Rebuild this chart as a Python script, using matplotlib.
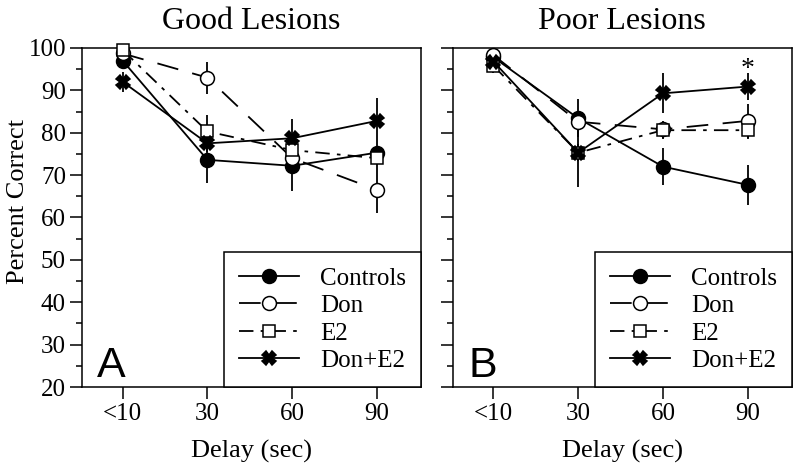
import matplotlib
matplotlib.use('Agg')
import matplotlib.pyplot as plt
import numpy as np

plt.rcParams['font.family'] = ['Liberation Serif', 'DejaVu Serif']

delays = ['<10', '30', '60', '90']
groups = ['Controls', 'Don', 'E2', 'Don+E2']

# Good lesions (panel A)
good_controls = [97.0, 73.6, 72.2, 75.3]
good_controls_err = [1.0, 5.5, 6.0, 2.0]
good_don = [98.7, 93.0, 74.0, 66.5]
good_don_err = [1.0, 3.8, 2.0, 5.5]
good_e2 = [99.5, 80.3, 75.9, 74.0]
good_e2_err = [1.0, 4.0, 2.0, 2.0]
good_done2 = [92.0, 77.5, 78.7, 82.8]
good_done2_err = [2.3, 2.0, 4.5, 5.5]

# Poor lesions (panel B)
poor_controls = [97.8, 83.4, 72.0, 67.7]
poor_controls_err = [1.0, 4.5, 4.3, 4.8]
poor_don = [98.3, 82.6, 80.8, 82.8]
poor_don_err = [1.0, 2.0, 2.0, 4.0]
poor_e2 = [95.8, 75.3, 80.6, 80.6]
poor_e2_err = [1.8, 2.0, 2.0, 2.0]
poor_done2 = [96.8, 75.3, 89.3, 90.9]
poor_done2_err = [1.0, 8.0, 4.7, 3.2]

# estilo de cada grupo
estilos = {
    'Controls': dict(marker='o', mfc='k', ms=10, dashes=()),
    'Don': dict(marker='o', mfc='white', ms=10, dashes=(12, 8)),
    'E2': dict(marker='s', mfc='white', ms=9, dashes=(8, 4, 2, 4)),
    'Don+E2': dict(marker='X', mfc='k', ms=10, dashes=()),
}


def dibujaPanel(ax, series, errores, titulo, letra, ylabels=True):
    x = np.arange(len(delays))
    for g in groups:
        ax.errorbar(x, series[g], yerr=errores[g], fmt='none', ecolor='k',
                    elinewidth=1.3, capsize=0, clip_on=False, zorder=2)
    for g in groups:
        st = estilos[g]
        line, = ax.plot(x, series[g], color='k', lw=1.3, marker=st['marker'],
                        ms=st['ms'], mfc=st['mfc'], mec='k', mew=1.1, label=g,
                        clip_on=False, zorder=3)
        if st['dashes']:
            line.set_dashes(st['dashes'])

    ax.set_xlim(-0.48, 3.52)
    ax.set_ylim(20, 100)
    ax.set_xticks(x)
    ax.set_xticklabels(delays)
    ax.set_yticks(np.arange(20, 101, 10))
    ax.set_yticks(np.arange(25, 100, 10), minor=True)
    ax.tick_params(axis='both', which='major', direction='out', length=8.6,
                   width=1.1, labelsize=18, pad=3)
    ax.tick_params(axis='y', which='minor', direction='out', length=4.3, width=1.1)
    if not ylabels:
        ax.set_yticklabels([])
    for s in ax.spines.values():
        s.set_linewidth(1.1)

    ax.set_title(titulo, fontsize=23, pad=14)
    ax.set_xlabel('Delay (sec)', fontsize=19)
    ax.xaxis.set_label_coords(0.5, -0.155)

    leg = ax.legend(loc='lower right', borderaxespad=0, fancybox=False,
                    edgecolor='k', framealpha=1, fontsize=18, handlelength=2.4,
                    handletextpad=0.85, labelspacing=0.2, borderpad=0.6)
    leg.get_frame().set_linewidth(1.1)

    ax.text(0.045, 0.03, letra, transform=ax.transAxes, fontsize=31,
            family='Liberation Sans', ha='left', va='baseline')


fig = plt.figure(figsize=(8, 4.69), dpi=100)
axA = fig.add_axes([0.1025, 0.1748, 0.4238, 0.7229])
axB = fig.add_axes([0.566, 0.1748, 0.4238, 0.7229])

dibujaPanel(axA,
            {'Controls': good_controls, 'Don': good_don, 'E2': good_e2, 'Don+E2': good_done2},
            {'Controls': good_controls_err, 'Don': good_don_err, 'E2': good_e2_err, 'Don+E2': good_done2_err},
            'Good Lesions', 'A')
dibujaPanel(axB,
            {'Controls': poor_controls, 'Don': poor_don, 'E2': poor_e2, 'Don+E2': poor_done2},
            {'Controls': poor_controls_err, 'Don': poor_don_err, 'E2': poor_e2_err, 'Don+E2': poor_done2_err},
            'Poor Lesions', 'B', ylabels=False)

axA.set_ylabel('Percent Correct', fontsize=19)
axA.yaxis.set_label_coords(-0.155, 0.546)

# asterisco de significancia sobre Don+E2 a 90 s
axB.annotate('*', xy=(3, poor_done2[3]), xytext=(0, 3), textcoords='offset points',
             ha='center', va='bottom', fontsize=20)

fig.savefig('out.png', dpi=100)
